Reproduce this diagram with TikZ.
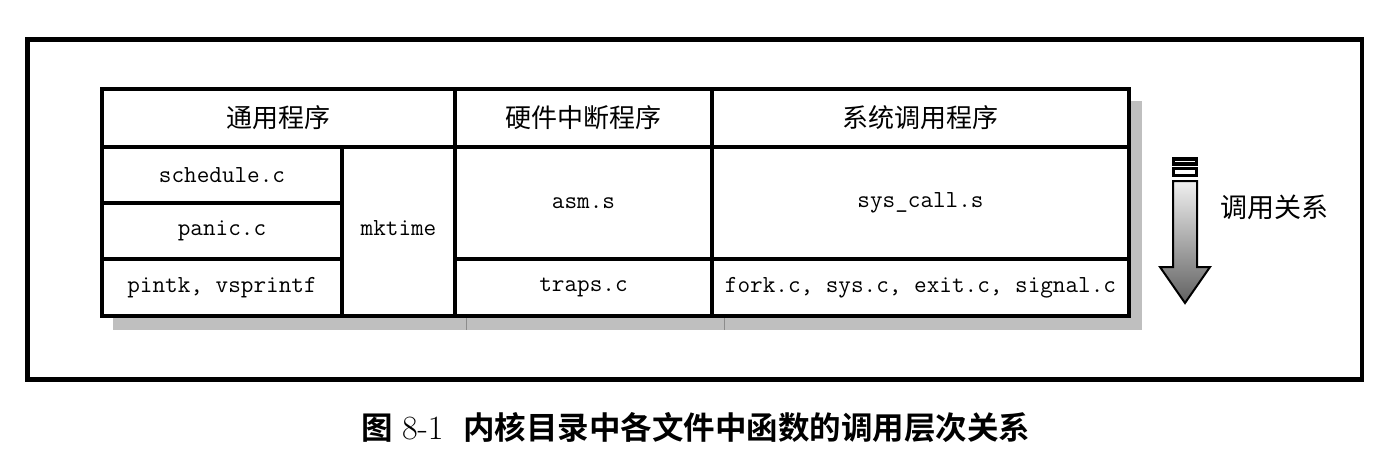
\documentclass[tikz,border=0pt]{standalone}
\usepackage{fontspec}
\newfontfamily\cjk{Noto Sans CJK SC}
\newfontfamily\cjkb{Noto Sans CJK SC Bold}
\usetikzlibrary{positioning}
\begin{document}
\begin{tikzpicture}[x=1pt,y=-1pt,
  cell/.style={draw,line width=4pt,inner sep=0pt,outer sep=0pt,
    font=\fontsize{24.5}{28}\selectfont\ttfamily},
  head/.style={cell,font=\fontsize{26}{30}\selectfont\cjk},
  shadowfill/.style={fill=black!25},
]
\useasboundingbox (0,0) rectangle (1392,468);
% outer frame
\draw[line width=4.5pt] (27.5,39.5) rectangle (1362,379.5);
% shadow
\fill[shadowfill] (113,101) rectangle (1142,330);
\draw[black!45,line width=0.8pt] (466,318) -- (466,330) (724,318) -- (724,330);
\fill[white] (102,89) rectangle (1129,316);
% header cells
\node[head,minimum width=353pt,minimum height=58pt] (h1) at (278.5,118) {通用程序};
\node[head,minimum width=257pt,minimum height=58pt] (h2) at (583.5,118) {硬件中断程序};
\node[head,minimum width=417pt,minimum height=58pt] (h3) at (920.5,118) {系统调用程序};
% general programs
\node[cell,minimum width=240pt,minimum height=56pt] (sched) at (222,175) {\raisebox{-2pt}{schedule.c}};
\node[cell,minimum width=240pt,minimum height=56pt] (panic) at (222,231) {\raisebox{-2pt}{panic.c}};
\node[cell,minimum width=240pt,minimum height=57pt] (pintk) at (222,287.5) {pintk, vsprintf};
\node[cell,minimum width=113pt,minimum height=169pt] (mktime) at (398.5,231.5) {\raisebox{6pt}{mktime}};
% hardware interrupt
\node[cell,minimum width=257pt,minimum height=112pt] (asm) at (583.5,203) {asm.s};
\node[cell,minimum width=257pt,minimum height=57pt] (traps) at (583.5,287.5) {\raisebox{-2pt}{traps.c}};
% system call
\node[cell,minimum width=417pt,minimum height=112pt] (sys) at (920.5,203) {sys\_call.s};
\node[cell,minimum width=417pt,minimum height=57pt] (fork) at (920.5,287.5) {\raisebox{-2pt}{fork.c, sys.c, exit.c, signal.c}};
% call-relation arrow
\fill[black] (1172,157) rectangle (1198,166);
\draw[white,line width=1pt] (1175,161.5) -- (1195,161.5);
\fill[black] (1172,167) rectangle (1198,177);
\fill[white] (1175,170) rectangle (1195,174);
\draw[line width=2pt,top color=black!6,bottom color=black!62,shading angle=0]
  (1173,181) -- (1197,181) -- (1197,267) -- (1210,267) -- (1185,303)
  -- (1160,267) -- (1173,267) -- cycle;
\node[font=\fontsize{27}{30}\selectfont\cjk] (rel) at (1274,207) {调用关系};
% caption
\node[font=\fontsize{31.5}{36}\selectfont\cjkb,inner sep=0pt] (cap) at (696,428)
  {图\hspace{9pt}{\fontsize{34}{36}\rmfamily\mdseries 8-1}\hspace{20pt}内核目录中各文件中函数的调用层次关系};
\end{tikzpicture}
\end{document}
